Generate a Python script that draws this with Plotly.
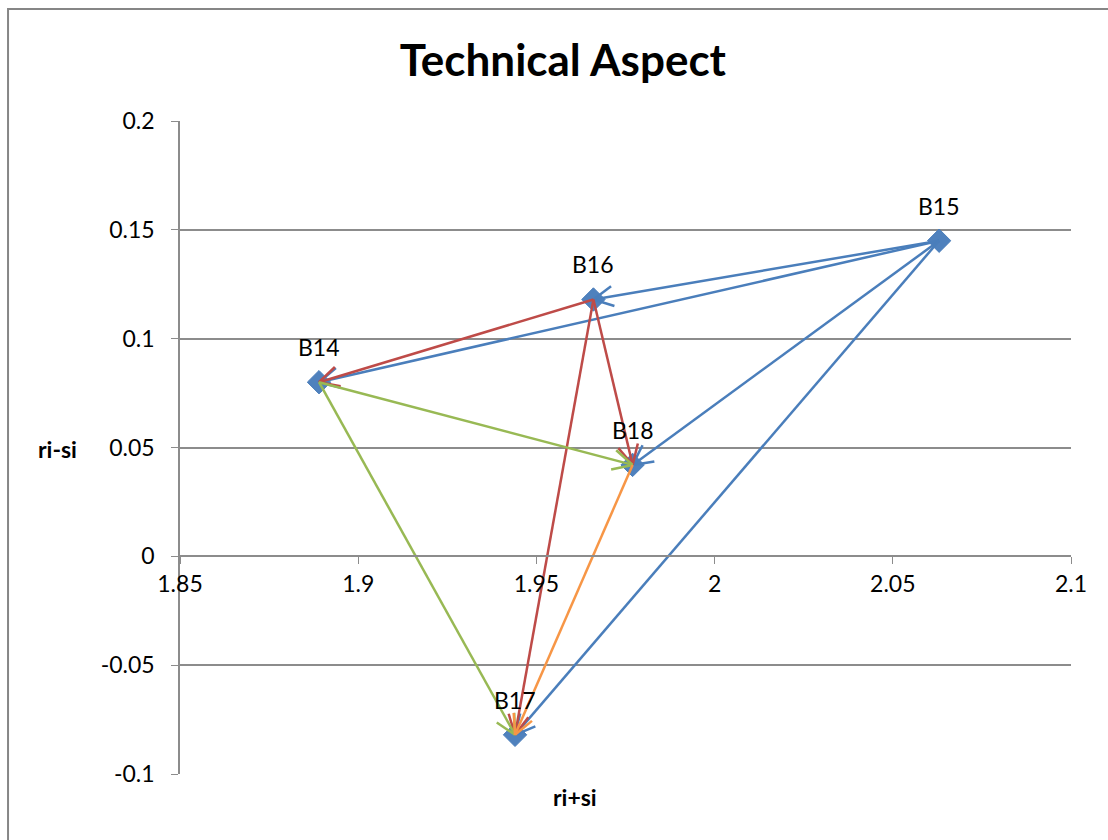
import math
import plotly.graph_objects as go

# Factor positions on the causal diagram
names = ["B14", "B15", "B16", "B17", "B18"]
ri_plus_si = [1.889, 2.063, 1.966, 1.944, 1.977]
ri_minus_si = [0.080, 0.145, 0.118, -0.082, 0.042]

# Influence relations (source -> target), grouped by arrow colour
blue_links = [("B15", "B14"), ("B15", "B16"), ("B15", "B18"), ("B15", "B17")]
red_links = [("B16", "B14"), ("B16", "B18"), ("B16", "B17")]
green_links = [("B14", "B18"), ("B14", "B17")]
orange_links = [("B18", "B17")]

x_ticks = [1.85, 1.9, 1.95, 2.0, 2.05, 2.1]
x_tick_text = ["1.85", "1.9", "1.95", "2", "2.05", "2.1"]
y_ticks = [-0.1, -0.05, 0, 0.05, 0.1, 0.15, 0.2]
y_tick_text = ["-0.1", "-0.05", "0", "0.05", "0.1", "0.15", "0.2"]

W, H = 1108, 840
M = dict(l=180, r=37, t=121, b=66)
X_RANGE = [1.85, 2.1]
Y_RANGE = [-0.1, 0.2]
px_per_x = (W - M["l"] - M["r"]) / (X_RANGE[1] - X_RANGE[0])
px_per_y = (H - M["t"] - M["b"]) / (Y_RANGE[1] - Y_RANGE[0])

pos = {n: (x, y) for n, x, y in zip(names, ri_plus_si, ri_minus_si)}
FONT = "Lato, 'Open Sans', sans-serif"


def arrow_path(links, head_len=22, half_angle=27):
    """Line segments plus open V heads, computed in screen space."""
    xs, ys = [], []
    for src, dst in links:
        x0, y0 = pos[src]
        x1, y1 = pos[dst]
        xs += [x0, x1, None]
        ys += [y0, y1, None]
        # direction from target back to source, in pixels
        dx = (x0 - x1) * px_per_x
        dy = (y0 - y1) * px_per_y
        ang = math.atan2(dy, dx)
        for s in (-1, 1):
            a = ang + s * math.radians(half_angle)
            ex = x1 + head_len * math.cos(a) / px_per_x
            ey = y1 + head_len * math.sin(a) / px_per_y
            xs += [x1, ex, None]
            ys += [y1, ey, None]
    return xs, ys


fig = go.Figure()

fig.add_trace(go.Scatter(
    x=ri_plus_si, y=ri_minus_si, mode="markers",
    marker=dict(symbol="diamond", size=18, color="#4F81BD",
                line=dict(width=1, color="#4A7EBB")),
    hoverinfo="text", text=names, showlegend=False,
))

for links, color in [(blue_links, "#4A7EBB"), (red_links, "#BE4B48"),
                     (green_links, "#98B954"), (orange_links, "#F79646")]:
    xs, ys = arrow_path(links)
    fig.add_trace(go.Scatter(x=xs, y=ys, mode="lines",
                             line=dict(color=color, width=2.5),
                             hoverinfo="skip", showlegend=False))

for n, x, y in zip(names, ri_plus_si, ri_minus_si):
    fig.add_annotation(x=x, y=y, text=n, showarrow=False, yshift=35,
                       font=dict(family=FONT, size=23, color="black"))

# Axis titles
fig.add_annotation(xref="paper", yref="paper", x=0.443, y=-0.01,
                   text="<b>ri+si</b>", showarrow=False, yanchor="top",
                   font=dict(family=FONT, size=23, color="black"))
fig.add_annotation(xref="paper", yref="paper", x=-0.137, y=0.497,
                   text="<b>ri-si</b>", showarrow=False, xanchor="center",
                   font=dict(family=FONT, size=23, color="black"))

# Chart outer frame
fig.add_shape(type="rect", xref="paper", yref="paper",
              x0=-0.193, y0=-0.3, x1=1.2, y1=1.1715,
              line=dict(color="#868686", width=2), layer="below")

fig.update_layout(
    width=W, height=H, margin=M,
    paper_bgcolor="white", plot_bgcolor="white",
    title=dict(text="<b>Technical Aspect</b>", x=0.508, xanchor="center",
               y=0.928, yanchor="middle",
               font=dict(family=FONT, size=44, color="black")),
    font=dict(family=FONT, size=23, color="black"),
    xaxis=dict(range=X_RANGE, tickvals=x_ticks, ticktext=x_tick_text,
               showgrid=False, zeroline=False, showline=True,
               linecolor="#8C8C8C", linewidth=1.5,
               ticks="outside", ticklen=7, tickcolor="#8C8C8C",
               anchor="free", position=1 / 3,
               tickfont=dict(family=FONT, size=23)),
    yaxis=dict(range=Y_RANGE, tickvals=y_ticks, ticktext=y_tick_text,
               showgrid=True, gridcolor="#8C8C8C", gridwidth=1.5,
               zeroline=False, showline=True,
               linecolor="#8C8C8C", linewidth=1.5,
               ticks="outside", ticklen=7, tickcolor="#8C8C8C",
               tickfont=dict(family=FONT, size=23), ticklabelstandoff=12),
)

fig.write_html("out.html")
